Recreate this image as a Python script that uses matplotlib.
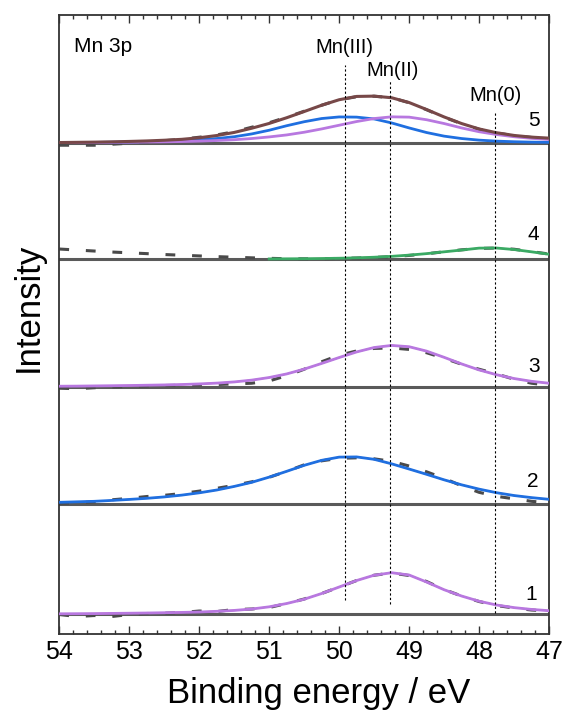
import matplotlib
matplotlib.use("Agg")
import matplotlib.pyplot as plt
from matplotlib.ticker import MultipleLocator

plt.rcParams['font.family'] = ['Liberation Sans', 'DejaVu Sans']

# Binding energy grid (eV)
energy = [54.00, 53.75, 53.50, 53.25, 53.00, 52.75, 52.50, 52.25, 52.00, 51.75,
          51.50, 51.25, 51.00, 50.75, 50.50, 50.25, 50.00, 49.75, 49.50, 49.25,
          49.00, 48.75, 48.50, 48.25, 48.00, 47.75, 47.50, 47.25, 47.00]

# vertical offsets of the stacked spectra (baselines)
offsets = {1: 19.5, 2: 129.2, 3: 246.8, 4: 374.5, 5: 490.8}

# spectrum 5
raw5 = [-2.5, -2.5, -2.5, -1.5, -0.5, 0.8, 2.0, 3.5, 5.5, 7.8,
        11.0, 15.5, 20.0, 25.5, 31.5, 37.5, 43.0, 46.0, 46.5, 45.0,
        40.0, 33.0, 25.5, 19.0, 13.5, 9.8, 7.0, 5.3, 4.5]
env5 = [0.2, 0.4, 0.6, 0.9, 1.3, 1.8, 2.5, 3.4, 5.0, 7.2,
        10.3, 14.5, 19.3, 25.0, 31.2, 37.5, 43.0, 46.3, 46.6, 45.0,
        40.2, 33.2, 25.8, 19.2, 13.8, 10.0, 7.3, 5.6, 4.6]
mn3_5 = [0.1, 0.2, 0.3, 0.5, 0.8, 1.1, 1.6, 2.2, 3.0, 4.2,
         6.0, 8.8, 12.5, 17.0, 21.0, 24.2, 25.8, 25.6, 23.8, 19.8,
         14.8, 10.2, 6.6, 4.2, 2.6, 1.6, 1.0, 0.6, 0.4]
mn2_5 = [0.1, 0.2, 0.3, 0.4, 0.5, 0.7, 0.9, 1.2, 1.6, 2.2,
         3.0, 4.2, 5.8, 7.8, 10.5, 13.8, 17.5, 21.2, 24.2, 25.9,
         25.6, 23.0, 19.2, 14.8, 11.0, 8.2, 6.0, 4.4, 3.3]

# spectrum 4 (Mn(0) component drawn from 51.0 eV down)
raw4 = [10.0, 9.0, 8.0, 7.0, 6.2, 5.4, 4.5, 3.8, 3.1, 2.4,
        1.8, 1.2, 0.7, 0.3, 0.2, 0.3, 0.6, 1.0, 1.6, 2.4,
        3.6, 5.2, 7.3, 9.2, 10.6, 11.0, 9.8, 7.4, 5.0]
energy4 = [51.00, 50.75, 50.50, 50.25, 50.00, 49.75, 49.50, 49.25, 49.00,
           48.75, 48.50, 48.25, 48.00, 47.75, 47.50, 47.25, 47.00]
mn0_4 = [0.1, 0.2, 0.3, 0.5, 0.8, 1.2, 1.8, 2.7, 3.9,
         5.4, 7.2, 9.0, 10.9, 11.0, 9.5, 7.2, 4.8]

# spectrum 3
raw3 = [-1.5, -2.0, -1.0, -0.3, 0.3, 0.8, 1.2, 1.5, 1.8, 2.2,
        2.8, 3.5, 5.8, 11.0, 17.5, 25.0, 31.5, 35.8, 38.3, 38.8,
        37.3, 34.0, 28.5, 22.5, 17.5, 12.8, 7.5, 3.5, 1.5]
mn2_3 = [0.5, 0.6, 0.8, 1.0, 1.2, 1.5, 1.8, 2.2, 2.8, 3.6,
         4.8, 6.6, 9.2, 12.8, 17.6, 23.3, 29.2, 34.8, 39.2, 41.3,
         40.0, 35.6, 29.4, 22.8, 16.8, 12.0, 8.2, 5.4, 3.5]

# spectrum 2
raw2 = [1.0, 1.5, 2.5, 4.5, 6.0, 7.8, 9.0, 10.8, 13.2, 16.0,
        19.0, 22.5, 27.0, 33.0, 39.5, 43.5, 46.0, 46.5, 45.5, 43.0,
        38.3, 32.5, 26.0, 18.5, 12.0, 8.0, 5.5, 3.0, 1.5]
mn3_2 = [2.0, 2.5, 3.0, 3.9, 4.9, 6.0, 7.4, 9.2, 11.5, 14.3,
         17.9, 22.0, 27.2, 33.0, 39.0, 44.0, 47.2, 47.4, 45.0, 40.5,
         35.3, 30.0, 24.5, 19.5, 15.2, 11.6, 8.8, 6.7, 5.0]

# spectrum 1
raw1 = [-0.5, -2.5, -1.5, -2.5, -0.5, 0.5, 0.8, 1.5, 3.0, 2.5,
        4.5, 5.0, 6.5, 10.5, 15.0, 20.5, 27.0, 33.5, 38.8, 41.0,
        38.5, 32.5, 24.5, 18.0, 12.5, 8.5, 6.0, 4.0, 3.0]
mn2_1 = [0.2, 0.3, 0.4, 0.6, 0.8, 1.0, 1.3, 1.6, 2.0, 2.7,
         3.6, 5.0, 7.2, 10.5, 14.8, 20.5, 27.0, 33.5, 38.8, 41.3,
         39.0, 32.0, 24.3, 18.0, 12.8, 9.0, 6.4, 4.6, 3.3]

# reference positions (eV) and labels
ref_names = ['Mn(III)', 'Mn(II)', 'Mn(0)']
ref_pos = [49.92, 49.28, 47.77]

C_RAW = '#4a4a4a'
C_BASE = '#5a5a5a'
C_ENV = '#774848'
C_BLUE = '#1f6fe0'
C_PURP = '#b878e0'
C_GREEN = '#3aaa64'
C_RED = '#f03030'

fig = plt.figure(figsize=(5.66, 7.16), dpi=100)
ax = fig.add_axes([0.1048, 0.1152, 0.8652, 0.8638])
ax.set_xlim(54, 47)
ax.set_ylim(0, 618.5)


def shifted(vals, k):
    return [v + offsets[k] for v in vals]


for k in offsets:
    ax.axhline(offsets[k], color=C_BASE, lw=2.2, zorder=1)

raw_kw = dict(color=C_RAW, lw=2.2, dashes=(3.2, 5.5), zorder=2)
lw = 2.0

# 5
ax.plot(energy, shifted(raw5, 5), **raw_kw)
ax.plot(energy, shifted(mn3_5, 5), color=C_BLUE, lw=lw, zorder=3)
ax.plot(energy, shifted(mn2_5, 5), color=C_PURP, lw=lw, zorder=3)
ax.plot(energy, shifted(env5, 5), color=C_ENV, lw=2.2, zorder=4)
# 4
ax.plot(energy, shifted(raw4, 4), **raw_kw)
ax.plot(energy4, shifted(mn0_4, 4), color=C_RED, lw=1.0, zorder=3)
ax.plot(energy4, shifted(mn0_4, 4), color=C_GREEN, lw=lw, zorder=4)
# 3
ax.plot(energy, shifted(raw3, 3), **raw_kw)
ax.plot(energy, shifted(mn2_3, 3), color=C_RED, lw=1.0, zorder=3)
ax.plot(energy, shifted(mn2_3, 3), color=C_PURP, lw=lw, zorder=4)
# 2
ax.plot(energy, shifted(raw2, 2), **raw_kw)
ax.plot(energy, shifted(mn3_2, 2), color=C_RED, lw=1.0, zorder=3)
ax.plot(energy, shifted(mn3_2, 2), color=C_BLUE, lw=lw, zorder=4)
# 1
ax.plot(energy, shifted(raw1, 1), **raw_kw)
ax.plot(energy, shifted(mn2_1, 1), color=C_RED, lw=1.0, zorder=3)
ax.plot(energy, shifted(mn2_1, 1), color=C_PURP, lw=lw, zorder=4)

# reference dotted lines
line_ranges = [(33.5, 568.5), (29.5, 553.5), (20.5, 522.5)]
label_pos = [(49.93, 585.8), (49.23, 562.8), (47.76, 538.5)]
for name, x, (y0, y1), (lx, ly) in zip(ref_names, ref_pos, line_ranges, label_pos):
    ax.plot([x, x], [y0, y1], color='black', lw=0.8, dashes=(2, 2), zorder=5)
    ax.text(lx, ly, name, ha='center', va='center', fontsize=14.5)

ax.text(53.79, 587.5, 'Mn 3p', ha='left', va='center', fontsize=15)

num_pos = {5: (47.21, 513.5), 4: (47.23, 399.5), 3: (47.22, 266.8),
           2: (47.23, 151.8), 1: (47.25, 39.5)}
for k, (x, y) in num_pos.items():
    ax.text(x, y, str(k), ha='center', va='center', fontsize=15)

ax.xaxis.set_major_locator(MultipleLocator(1))
ax.xaxis.set_minor_locator(MultipleLocator(0.2))
ax.set_yticks([])
ax.tick_params(axis='x', which='both', direction='in', top=True, bottom=True,
               labelsize=18, pad=5, color='#333333')
ax.tick_params(axis='x', which='major', length=5.5, width=1.0)
ax.tick_params(axis='x', which='minor', length=2.6, width=1.0)
for s in ax.spines.values():
    s.set_linewidth(1.3)
    s.set_color('#333333')

fig.text(319 / 566, 1 - 693 / 716, 'Binding energy / eV', ha='center', va='center', fontsize=25)
fig.text(28 / 566, 1 - 307 / 716, 'Intensity', ha='center', va='center', rotation=90, fontsize=25)

fig.savefig('out.png', dpi=100)
